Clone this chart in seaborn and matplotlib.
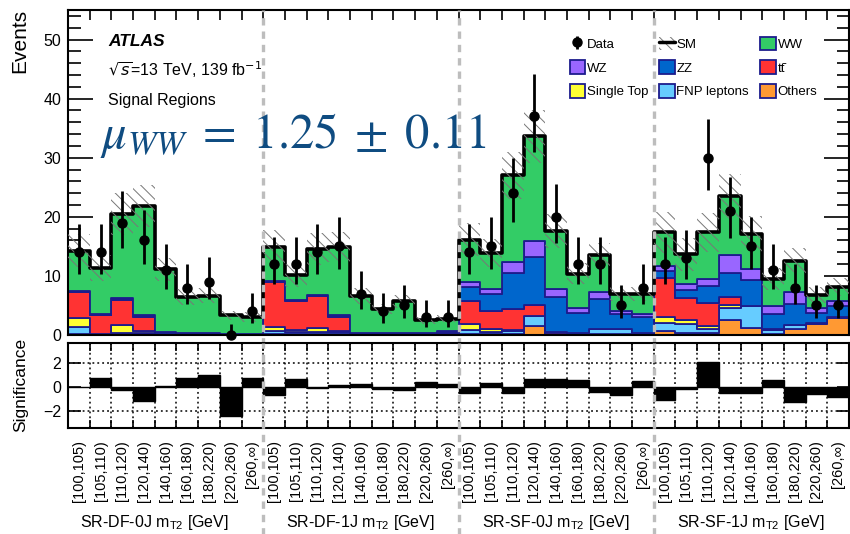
import numpy as np
import pandas as pd
import matplotlib
matplotlib.use("Agg")
import matplotlib.pyplot as plt
import seaborn as sns
from matplotlib.patches import Patch
from matplotlib.lines import Line2D
from matplotlib.ticker import MultipleLocator, FixedLocator, NullFormatter, FixedFormatter

# ---------------- data ----------------
regions = ["SR-DF-0J", "SR-DF-1J", "SR-SF-0J", "SR-SF-1J"]
bin_labels = ["[100,105)", "[105,110)", "[110,120)", "[120,140)", "[140,160)",
              "[160,180)", "[180,220)", "[220,260)", "[260,\u221e)"]

processes = ["WW", "WZ", "ZZ", "tt\u0304", "Single Top", "FNP leptons", "Others"]
colors = {"WW": "#33cc66", "WZ": "#9966ff", "ZZ": "#0066cc", "tt\u0304": "#ff3333",
          "Single Top": "#ffff33", "FNP leptons": "#66ccff", "Others": "#ff9933"}

ww = [6.9, 7.9, 14.3, 18.4, 10.6, 6.1, 6.3, 3.1, 2.8,
      5.7, 4.15, 7.65, 11.55, 6.2, 4.05, 5.35, 2.2, 2.1,
      7.1, 6.2, 14.6, 17.7, 9.8, 5.8, 6.4, 3.0, 3.4,
      5.7, 5.1, 7.9, 10.0, 6.0, 4.6, 5.3, 2.2, 2.4]
wz = [0.1, 0.05, 0.05, 0.1, 0.05, 0.05, 0.05, 0.02, 0.02,
      0.05, 0.05, 0.05, 0.05, 0.03, 0.03, 0.03, 0.03, 0.03,
      0.8, 0.8, 1.9, 2.7, 1.3, 0.8, 1.1, 0.4, 0.6,
      0.9, 0.9, 1.2, 3.0, 1.8, 1.4, 1.9, 0.8, 0.8]
zz = [0.1, 0.1, 0.15, 0.2, 0.2, 0.1, 0.1, 0.05, 0.05,
      0.15, 0.2, 0.2, 0.2, 0.15, 0.1, 0.1, 0.1, 0.2,
      2.4, 2.9, 6.1, 8.2, 6.0, 3.53, 5.05, 2.6, 2.6,
      1.2, 1.5, 2.8, 4.0, 4.4, 2.5, 3.6, 1.7, 1.8]
ttbar = [4.3, 3.1, 4.3, 2.4, 0.1, 0.05, 0.05, 0.02, 0.02,
         7.6, 4.8, 5.4, 2.5, 0.05, 0.05, 0.05, 0.02, 0.02,
         4.0, 2.95, 3.5, 1.7, 0.25, 0.1, 0.03, 0.0, 0.0,
         6.6, 3.6, 4.0, 1.4, 0.0, 0.1, 0.0, 0.0, 0.0]
single_top = [1.5, 0.1, 1.4, 0.3, 0.05, 0.05, 0.05, 0.02, 0.02,
              0.65, 0.4, 0.65, 0.1, 0.02, 0.02, 0.02, 0.02, 0.02,
              0.9, 0.55, 0.3, 0.1, 0.05, 0.02, 0.02, 0.0, 0.0,
              0.9, 0.7, 0.5, 0.6, 0.0, 0.0, 0.0, 0.0, 0.0]
fnp = [1.2, 0.1, 0.2, 0.3, 0.05, 0.05, 0.05, 0.05, 0.05,
       0.5, 0.3, 0.35, 0.35, 0.1, 0.1, 0.1, 0.1, 0.3,
       0.7, 0.4, 0.5, 1.7, 0.1, 0.1, 0.9, 0.9, 0.3,
       1.5, 1.5, 0.7, 2.0, 3.7, 0.8, 0.7, 0.2, 0.3]
others = [0.2, 0.05, 0.1, 0.1, 0.05, 0.05, 0.05, 0.05, 0.05,
          0.25, 0.2, 0.2, 0.15, 0.05, 0.05, 0.05, 0.05, 0.05,
          0.2, 0.1, 0.1, 1.5, 0.1, 0.05, 0.1, 0.1, 0.1,
          0.6, 0.4, 0.3, 2.5, 1.2, 0.1, 1.0, 1.9, 2.8]
sm_unc = [2.8, 2.2, 3.5, 3.6, 2.0, 1.3, 1.3, 0.8, 0.8,
          2.8, 2.0, 2.7, 2.6, 1.4, 0.9, 1.1, 0.6, 0.6,
          2.8, 2.4, 4.0, 4.5, 2.8, 1.8, 2.0, 1.2, 1.2,
          3.5, 2.8, 3.3, 3.8, 3.0, 1.9, 2.2, 1.3, 1.5]
data = [14, 14, 19, 16, 11, 8, 9, 0, 4,
        12, 12, 14, 15, 7, 4, 5, 3, 3,
        14, 15, 24, 37, 20, 12, 12, 5, 8,
        12, 13, 30, 21, 15, 11, 8, 5, 5]
significance = [-0.05, 0.68, -0.27, -1.17, 0.05, 0.68, 0.92, -2.48, 0.68,
                -0.68, 0.63, -0.16, 0.10, 0.20, -0.22, -0.27, 0.38, 0.20,
                -0.50, 0.33, -0.55, 0.63, 0.60, 0.55, -0.45, -0.70, 0.45,
                -1.10, -0.20, 2.05, -0.50, -0.50, 0.52, -1.25, -0.63, -0.90]

# ---------------- style ----------------
sns.set_style("ticks")
plt.rcParams["font.family"] = ["Liberation Sans", "DejaVu Sans"]
plt.rcParams["hatch.linewidth"] = 0.7
plt.rcParams["hatch.color"] = "#777777"
plt.rcParams["axes.linewidth"] = 1.5
for k in ["text.color", "axes.labelcolor", "xtick.color", "ytick.color", "axes.edgecolor"]:
    plt.rcParams[k] = "black"
navy = "#1c1c8c"

nbins = len(data)
edges = np.arange(nbins + 1)
edge_list = [float(e) for e in edges]
centers = edges[:-1] + 0.5

series = {"WW": ww, "WZ": wz, "ZZ": zz, "tt\u0304": ttbar,
          "Single Top": single_top, "FNP leptons": fnp, "Others": others}
df = pd.DataFrame([
    {"x": c, "process": p, "value": v}
    for p in processes for c, v in zip(centers, series[p])
])
sm = np.sum([np.array(series[p]) for p in processes], axis=0)

fig = plt.figure(figsize=(8.5, 5.34), dpi=100)
W, H = 850.0, 534.0
ax = fig.add_axes([68 / W, 1 - 335 / H, (849 - 68) / W, (335 - 10) / H])
axr = fig.add_axes([68 / W, 1 - 428 / H, (849 - 68) / W, (428 - 342.7) / H], sharex=ax)

# stacked backgrounds
sns.histplot(data=df, x="x", weights="value", hue="process", hue_order=processes,
             palette=colors, multiple="stack", bins=edge_list, element="step",
             fill=True, alpha=1, edgecolor=navy, linewidth=1.3, legend=False, ax=ax)

# SM total outline
sns.histplot(x=centers, weights=sm, bins=edge_list, element="step", fill=False,
             color="black", linewidth=2.6, ax=ax, zorder=5)

# uncertainty hatch
lo = sm - np.array(sm_unc)
hi = sm + np.array(sm_unc)
ax.fill_between(edges, np.r_[lo, lo[-1]], np.r_[hi, hi[-1]], step="post",
                facecolor="none", edgecolor="#777777", hatch="\\\\\\", linewidth=0, zorder=6)

# data with Poisson (Gehrels) errors
d = np.array(data, dtype=float)
err_hi = 1 + np.sqrt(d + 0.75)
err_lo = np.where(d > 0, np.sqrt(np.clip(d - 0.25, 0, None)), 0)
eb = ax.errorbar(centers, d, yerr=[err_lo, err_hi], fmt="o", color="black",
                 ms=6.5, elinewidth=2, capsize=0, zorder=10, clip_on=False)

ax.set_xlim(0, nbins)
ax.set_ylim(0, 55)
ax.set_xlabel("")
ax.set_ylabel("")
ax.yaxis.set_major_locator(MultipleLocator(10))
ax.yaxis.set_minor_locator(MultipleLocator(2))
ax.tick_params(axis="y", which="major", direction="in", length=18, width=1.2,
               right=True, labelsize=11.5, pad=5)
ax.tick_params(axis="y", which="minor", direction="in", length=9, width=1.2, right=True)
ax.xaxis.set_major_locator(FixedLocator(edges))
ax.tick_params(axis="x", which="major", direction="in", length=7, width=1.2,
               top=True, bottom=True)
ax.tick_params(axis="x", which="minor", bottom=False, top=False)
ax.tick_params(axis="x", which="both", labelbottom=False, labeltop=False)
for s in ax.spines.values():
    s.set_visible(True)

# significance panel
sns.barplot(x=centers, y=significance, native_scale=True, width=1, color="black",
            edgecolor="black", linewidth=1, errorbar=None, saturation=1, ax=axr)
axr.axhline(2, color="black", ls=(0, (1.2, 2)), lw=1.1, zorder=0)
axr.axhline(-2, color="black", ls=(0, (1.2, 2)), lw=1.1, zorder=0)
for e in edges[1:-1]:
    axr.axvline(e, color="black", ls=(0, (1.2, 2)), lw=1.1, zorder=0)
axr.set_xlim(0, nbins)
axr.set_ylim(-3.45, 3.65)
axr.set_yticks([-2, 0, 2])
axr.set_yticklabels(["\u22122", "0", "2"])
axr.tick_params(axis="y", direction="in", length=9, width=1.2, right=True, labelsize=11.5, pad=5)
axr.xaxis.set_major_locator(FixedLocator(edges))
axr.xaxis.set_major_formatter(NullFormatter())
axr.xaxis.set_minor_locator(FixedLocator(centers))
axr.xaxis.set_minor_formatter(FixedFormatter(bin_labels * 4))
axr.tick_params(axis="x", which="major", direction="in", length=6, width=1.2, top=True, bottom=True)
axr.tick_params(axis="x", which="minor", length=0, labelsize=10.5, labelrotation=90, pad=9,
                labelbottom=True)
axr.set_xlabel("")
axr.set_ylabel("")
for s in axr.spines.values():
    s.set_visible(True)

# region separators
for b in [9, 18, 27]:
    ax.axvline(b, ymin=-0.03, ymax=1, color="#bdbdbd", ls=(0, (2.2, 1.8)), lw=2.4,
               zorder=8, clip_on=False)
    axr.axvline(b, ymin=-1.25, ymax=1, color="#bdbdbd", ls=(0, (2.2, 1.8)), lw=2.4,
                zorder=8, clip_on=False)

# region labels
tr = matplotlib.transforms.blended_transform_factory(axr.transData, fig.transFigure)
label_pos = [4.0, 13.5, 22.5, 31.5]
for r, xp in zip(regions, label_pos):
    axr.text(xp, 1 - 522 / H, r + r" m$_\mathregular{T2}$ [GeV]",
             transform=tr, ha="center", va="center", fontsize=11.5)

# axis titles
fig.text(20 / W, 1 - 9 / H, "Events", rotation=90, ha="center", va="top", fontsize=15)
fig.text(21 / W, 1 - 385 / H, "Significance", rotation=90, ha="center", va="center", fontsize=12.5)

# annotations
fig.text(108 / W, 1 - 42 / H, "ATLAS", fontsize=12.5, fontweight="bold", fontstyle="italic",
         va="center", ha="left")
fig.text(108 / W, 1 - 70 / H, r"$\sqrt{s}$=13 TeV, 139 fb$^{-1}$", fontsize=11.5,
         va="center", ha="left")
fig.text(108 / W, 1 - 100 / H, "Signal Regions", fontsize=11.5, va="center", ha="left")
fig.text(100 / W, 1 - 136 / H, r"$\mu_{WW}\;=\;1.25\;\pm\;0.11$", fontsize=35,
         color="#0f4c81", math_fontfamily="stix", va="center", ha="left")

# legend
def box(p):
    return Patch(facecolor=colors[p], edgecolor=navy, linewidth=1.3)

sm_handle = (Patch(facecolor="none", edgecolor="#777777", hatch="\\\\\\", linewidth=0),
             Line2D([], [], color="black", lw=2.5))
handles = [eb, box("WZ"), box("Single Top"),
           sm_handle, box("ZZ"), box("FNP leptons"),
           box("WW"), box("tt\u0304"), box("Others")]
labels = ["Data", "WZ", "Single Top", "SM", "ZZ", "FNP leptons", "WW", "t\u0074\u0304", "Others"]
fig.legend(handles, labels, loc="upper left", bbox_to_anchor=(563 / W, 1 - 30 / H),
           ncol=3, frameon=False, fontsize=9.5, handlelength=1.15, handleheight=1.2,
           handletextpad=0.15, columnspacing=0.85, labelspacing=0.72, borderpad=0)

fig.savefig("out.png", dpi=100)
